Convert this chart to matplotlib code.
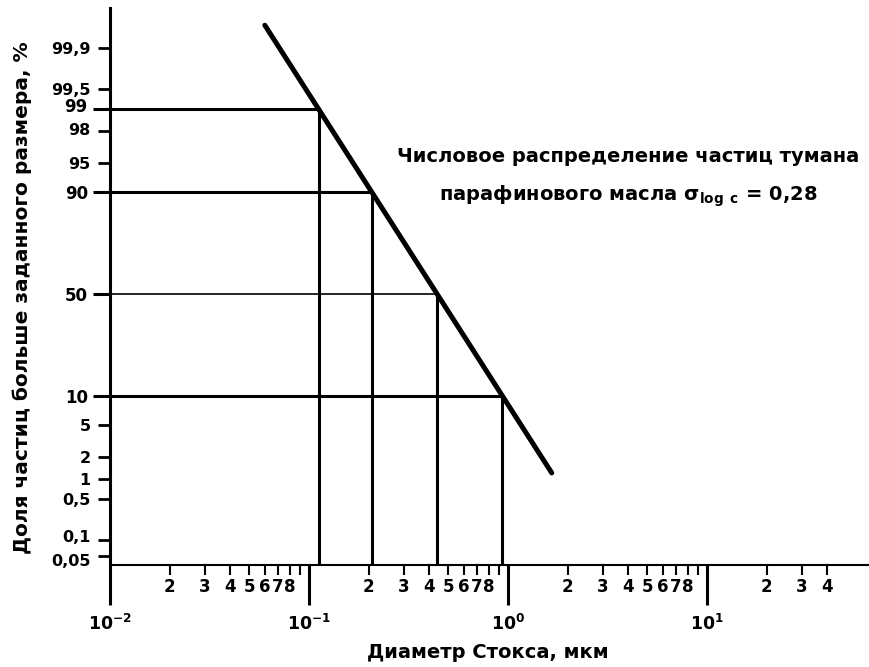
import math
import numpy as np
import matplotlib
matplotlib.use("Agg")
import matplotlib.pyplot as plt
from matplotlib.transforms import ScaledTranslation

# data
line_diam = [0.060, 1.66]           # mm, ends of the distribution line
line_pct = [99.964, 1.22]           # % larger than size
drop_diam = [0.112, 0.207, 0.44, 0.93]
drop_pct = [99, 90, 50, 10]
drop_lw = [2.2, 2.2, 1.2, 2.2]

y_major = [99, 90, 50, 10]
y_major_labels = ["99", "90", "50", "10"]
y_minor = [99.9, 99.5, 98, 95, 5, 2, 1, 0.5, 0.1, 0.05]
y_minor_labels = ["99,9", "99,5", "98", "95", "5", "2", "1", "0,5", "0,1", "0,05"]

x_major = [0.01, 0.1, 1, 10]
x_major_labels = [r"$10^{-2}$", r"$10^{-1}$", r"$10^{0}$", r"$10^{1}$"]
x_minor = [m * d for d in (0.01, 0.1, 1) for m in range(2, 10)] + [20, 30, 40]
x_minor_labels = ([str(m) if m < 9 else "" for d in range(3) for m in range(2, 10)]
                  + ["2", "3", "4"])

plt.rcParams["font.family"] = "DejaVu Sans"
plt.rcParams["font.weight"] = "bold"
plt.rcParams["mathtext.default"] = "bf"

# probability (normal quantile) scale
z_grid = np.linspace(-6, 6, 6001)
cdf_grid = 50.0 * (1 + np.array([math.erf(v / math.sqrt(2)) for v in z_grid]))


def prob_fwd(p):
    return np.interp(p, cdf_grid, z_grid)


def prob_inv(z):
    return np.interp(z, z_grid, cdf_grid)


fig = plt.figure(figsize=(8.7, 6.67), dpi=100)
ax = fig.add_axes([110 / 870, 1 - 565 / 667, 760 / 870, 557 / 667])

ax.set_xscale("log")
ax.set_yscale("function", functions=(prob_fwd, prob_inv))
ax.set_xlim(0.01, 66)
ax.set_ylim(0.0326, 99.984)

ax.plot(line_diam, line_pct, color="black", lw=3.6, solid_capstyle="round")
for d, p, w in zip(drop_diam, drop_pct, drop_lw):
    ax.plot([0.01, d], [p, p], color="black", lw=w)
    ax.plot([d, d], [0.0326, p], color="black", lw=2.2)

for s in ["top", "right"]:
    ax.spines[s].set_visible(False)
ax.spines["left"].set_linewidth(2.2)
ax.spines["bottom"].set_linewidth(1.5)

ax.set_xticks(x_major, x_major_labels)
ax.set_xticks(x_minor, x_minor_labels, minor=True)
ax.set_yticks(y_major, y_major_labels)
ax.set_yticks(y_minor, y_minor_labels, minor=True)

ax.tick_params(axis="x", which="major", direction="out", length=29, width=2.2,
               pad=6, labelsize=12.5)
ax.tick_params(axis="x", which="minor", direction="out", length=7, width=1.5,
               pad=2, labelsize=12)
ax.tick_params(axis="y", which="major", direction="out", length=12, width=2.2,
               pad=4, labelsize=12)
ax.tick_params(axis="y", which="minor", direction="out", length=9, width=2,
               pad=5, labelsize=11.5)

# nudge crowded labels apart a little
nudge = {"99": 4, "0,1": 4, "0,05": -4, "98": 2}
for lab in ax.get_yticklabels() + ax.get_yticklabels(minor=True):
    dy = nudge.get(lab.get_text(), 0)
    if dy:
        lab.set_transform(lab.get_transform()
                          + ScaledTranslation(0, dy / 100, fig.dpi_scale_trans))

ax.text(0.682, 1 - (157 - 8) / 557, "Числовое распределение частиц тумана",
        transform=ax.transAxes, ha="center", va="center", fontsize=14)
ax.text(0.682, 1 - (196 - 8) / 557,
        r"парафинового масла $\sigma_{\log\ c}$ = 0,28",
        transform=ax.transAxes, ha="center", va="center", fontsize=14)

fig.text(22 / 870, 1 - 298 / 667, "Доля частиц больше заданного размера, %",
         rotation=90, ha="center", va="center", fontsize=14.5)
fig.text(488 / 870, 1 - 653 / 667, "Диаметр Стокса, мкм",
         ha="center", va="center", fontsize=14)

fig.savefig("out.png", dpi=100)
